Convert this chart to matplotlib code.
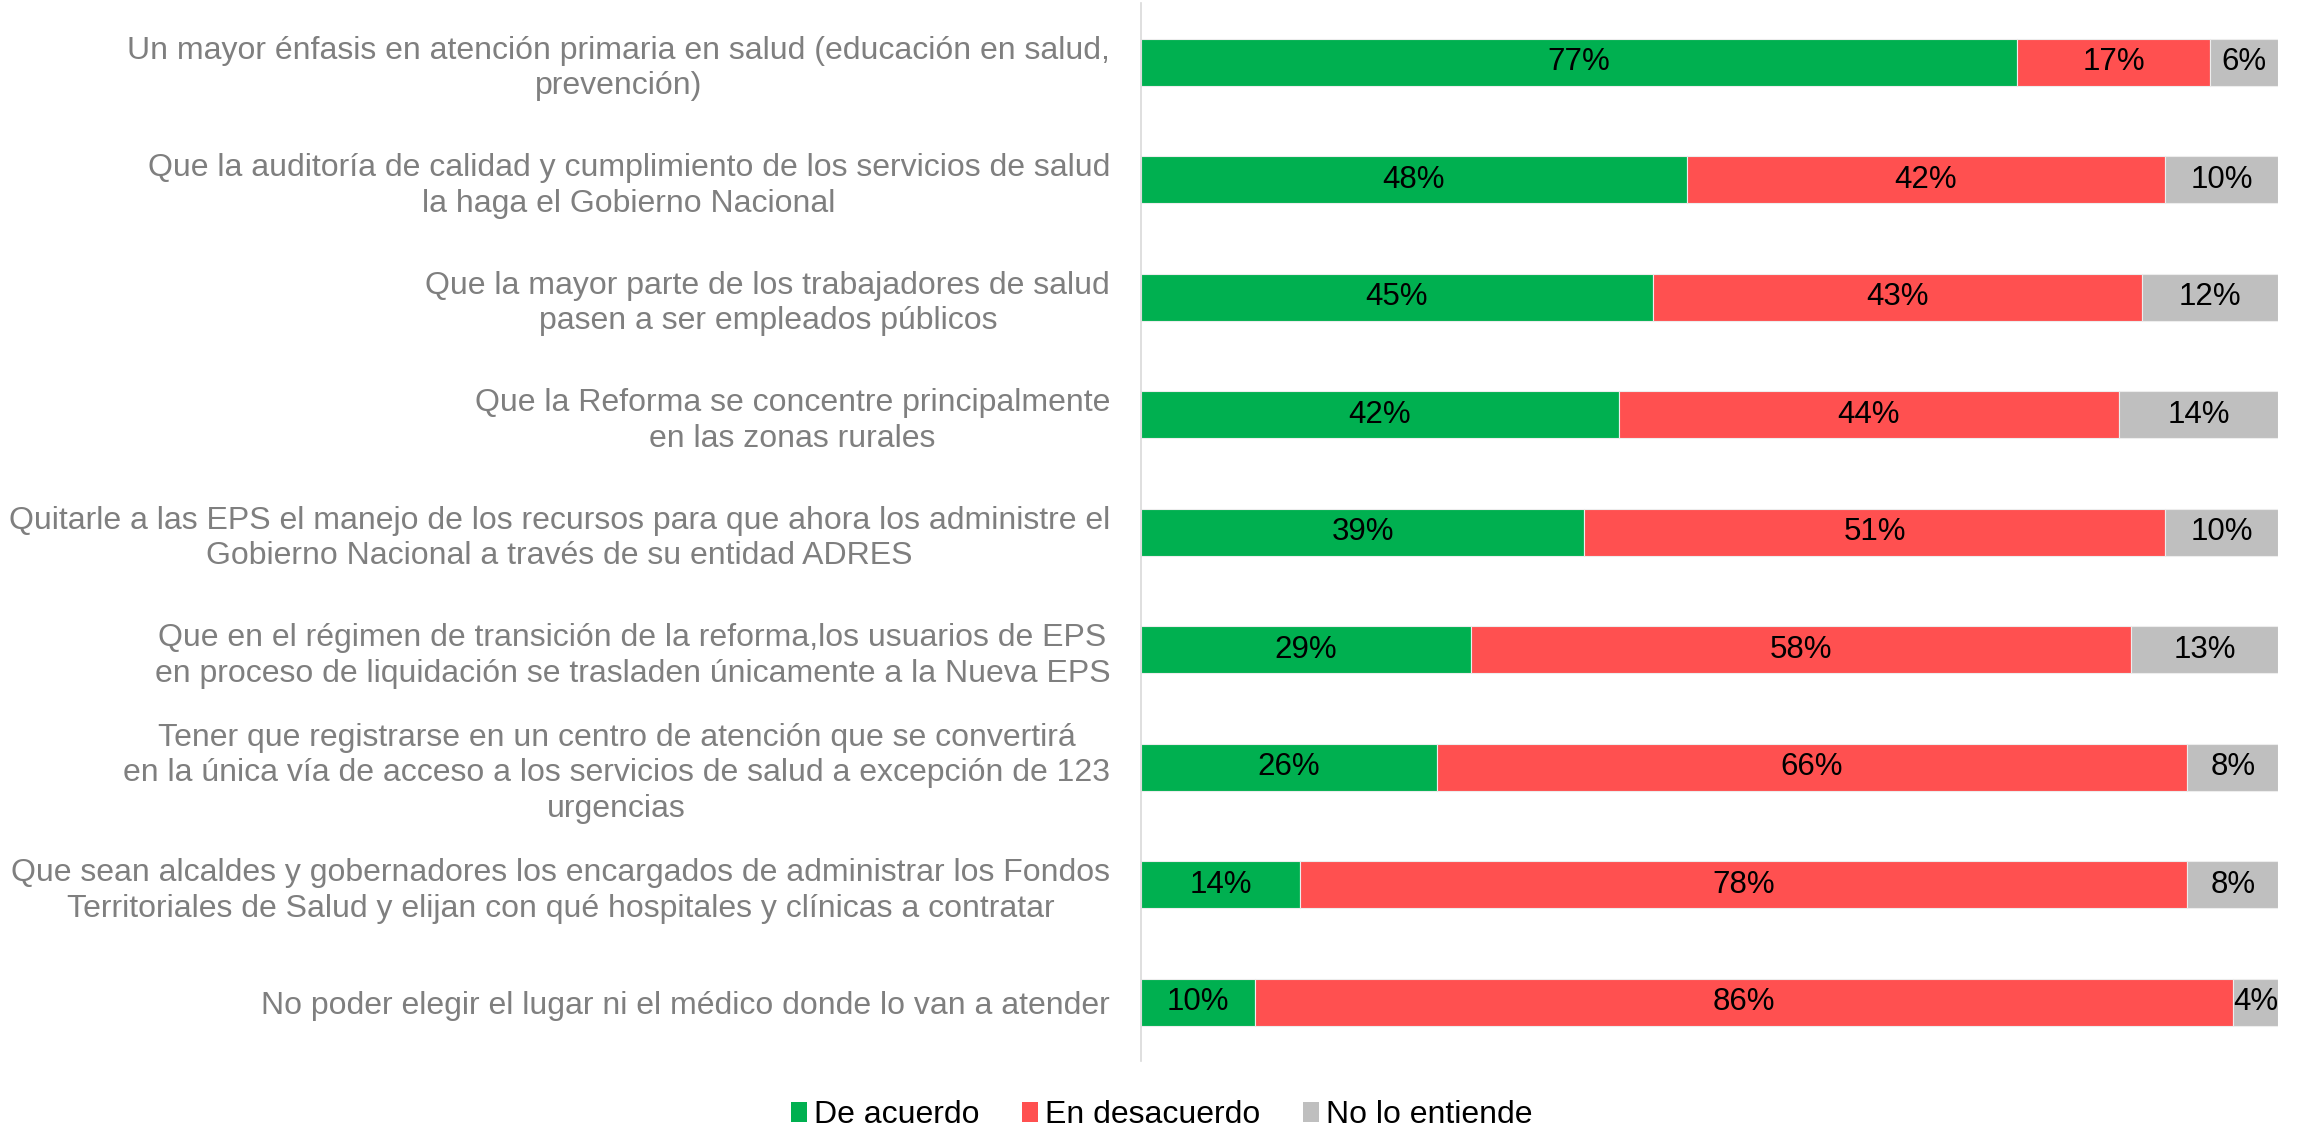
import numpy as np
import matplotlib
matplotlib.use("Agg")
import matplotlib.pyplot as plt
from matplotlib.patches import Patch

plt.rcParams['font.family'] = ['Liberation Sans', 'DejaVu Sans']

labels = [
    "Un mayor énfasis en atención primaria en salud (educación en salud,\nprevención)",
    "Que la auditoría de calidad y cumplimiento de los servicios de salud\nla haga el Gobierno Nacional",
    "Que la mayor parte de los trabajadores de salud\npasen a ser empleados públicos",
    "Que la Reforma se concentre principalmente\nen las zonas rurales",
    "Quitarle a las EPS el manejo de los recursos para que ahora los administre el\nGobierno Nacional a través de su entidad ADRES",
    "Que en el régimen de transición de la reforma,los usuarios de EPS\nen proceso de liquidación se trasladen únicamente a la Nueva EPS",
    "Tener que registrarse en un centro de atención que se convertirá\nen la única vía de acceso a los servicios de salud a excepción de 123\nurgencias",
    "Que sean alcaldes y gobernadores los encargados de administrar los Fondos\nTerritoriales de Salud y elijan con qué hospitales y clínicas a contratar",
    "No poder elegir el lugar ni el médico donde lo van a atender",
]
de_acuerdo = [77, 48, 45, 42, 39, 29, 26, 14, 10]
en_desacuerdo = [17, 42, 43, 44, 51, 58, 66, 78, 86]
no_entiende = [6, 10, 12, 14, 10, 13, 8, 8, 4]

series_names = ["De acuerdo", "En desacuerdo", "No lo entiende"]
colors = ["#00B050", "#FF5050", "#BFBFBF"]

fig = plt.figure(figsize=(23.05, 11.27), dpi=100)
ax = fig.add_axes([0.4949, 0.0587, 0.9885 - 0.4949, 0.997 - 0.0587])

y = np.arange(len(labels))
left = np.zeros(len(labels))
fs_lab = 23
fs_val = 22.5
for vals, col in zip([de_acuerdo, en_desacuerdo, no_entiende], colors):
    vals = np.array(vals, dtype=float)
    ax.barh(y, vals, left=left, height=0.4, color=col,
            edgecolor='#EDEDED', linewidth=0.8)
    for yi, l, v in zip(y, left, vals):
        ax.text(l + v / 2, yi, f"{int(v)}%", ha='center', va='center',
                fontsize=fs_val, color='black')
    left += vals

ax.set_xlim(0, 100)
ax.set_ylim(len(labels) - 0.5, -0.5)
ax.set_yticks(y)
ax.set_yticklabels(labels, fontsize=fs_lab, color='#7F7F7F',
                   multialignment='center', linespacing=1.25)
ax.tick_params(axis='y', length=0, pad=22)
ax.set_xticks([])
for s in ['top', 'right', 'bottom']:
    ax.spines[s].set_visible(False)
ax.spines['left'].set_color('#D9D9D9')
ax.spines['left'].set_linewidth(1.2)

handles = [Patch(facecolor=c, edgecolor='none', label=n) for c, n in zip(colors, series_names)]
fig.legend(handles=handles, loc='center', bbox_to_anchor=(0.504, 0.0104), ncol=3,
           frameon=False, fontsize=fs_lab, handlelength=0.5, handleheight=0.6,
           handletextpad=0.2, columnspacing=1.35)

fig.savefig("out.png", dpi=100)
